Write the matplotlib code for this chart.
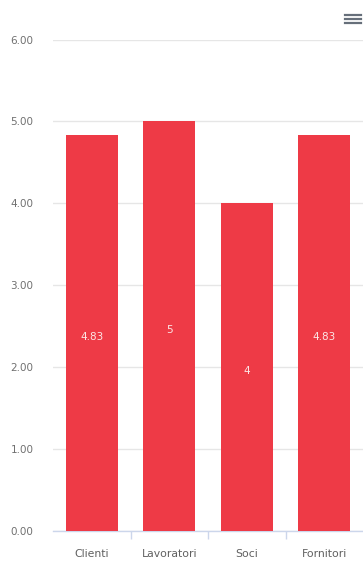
import matplotlib
matplotlib.use("Agg")
import matplotlib.pyplot as plt
from matplotlib.lines import Line2D

categories = ["Clienti", "Lavoratori", "Soci", "Fornitori"]
values = [4.83, 5, 4, 4.83]
value_labels = ["4.83", "5", "4", "4.83"]
y_ticks = [0, 1, 2, 3, 4, 5, 6]
y_tick_labels = ["0.00", "1.00", "2.00", "3.00", "4.00", "5.00", "6.00"]

plt.rcParams['font.family'] = ['DejaVu Sans']

W, H = 363, 561
fig = plt.figure(figsize=(W / 100, H / 100), dpi=100)
fig.patch.set_facecolor("white")
ax = fig.add_axes([53 / W, 1 - 531 / H, (W - 53) / W, (531 - 39.5) / H])

x = list(range(len(categories)))
bars = ax.bar(x, values, width=0.67, color="#ee3a46", zorder=3)
ax.set_xlim(-0.5, len(categories) - 0.5)
ax.set_ylim(0, 6)

for xi, v, lab in zip(x, values, value_labels):
    ax.annotate(lab, (xi, v / 2), xytext=(0, -3), textcoords="offset points",
                ha="center", va="center", color="#fbe6e6",
                fontsize=7.5, zorder=4)

ax.set_yticks(y_ticks)
ax.set_yticklabels(y_tick_labels, fontsize=7.5, color="#707070")
ax.tick_params(axis="y", length=0, pad=14)
ax.yaxis.grid(True, color="#e6e6e6", linewidth=1, zorder=0)
ax.set_xticks(x)
ax.set_xticklabels(categories, fontsize=7.8, color="#606060")
ax.tick_params(axis="x", length=0, pad=13)
ax.set_xticks([0.5, 1.5, 2.5], minor=True)
ax.tick_params(axis="x", which="minor", length=6, color="#ccd6eb", width=1)

for s in ["top", "right", "left"]:
    ax.spines[s].set_visible(False)
ax.spines["bottom"].set_color("#ccd6eb")
ax.spines["bottom"].set_linewidth(1)

# menu icon
for yy in [14.5, 18.5, 22.5]:
    fig.add_artist(Line2D([345 / W, 361 / W], [1 - yy / H, 1 - yy / H],
                          color="#666f7a", linewidth=1.6,
                          transform=fig.transFigure))

fig.savefig("out.png", dpi=100, facecolor="white")
